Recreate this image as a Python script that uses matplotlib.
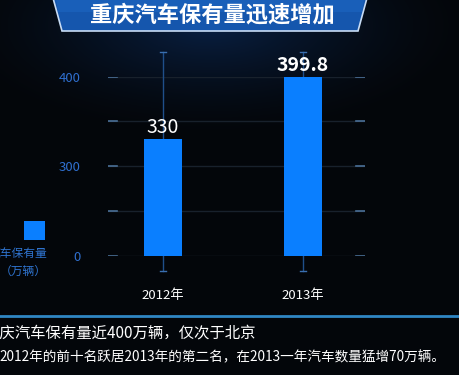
import numpy as np
import matplotlib
matplotlib.use('Agg')
import matplotlib.pyplot as plt
from matplotlib.patches import Polygon, Rectangle

plt.rcParams['font.family'] = ['Noto Sans CJK SC', 'DejaVu Sans']

# data
years = ['2012年', '2013年']
counts = [330, 399.8]
value_labels = ['330', '399.8']
grid_levels = [200, 250, 300, 350, 400]
tick_pos = [200, 300, 400]
tick_labels = ['0', '300', '400']

title = '重庆汽车保有量迅速增加'
legend_label = '汽车保有量\n（万辆）'
note1 = '重庆汽车保有量近400万辆，仅次于北京'
note2 = '2012年的前十名跃居2013年的第二名，在2013一年汽车数量猛增70万辆。'

W, H = 460, 375
fig = plt.figure(figsize=(W / 100, H / 100), dpi=100)

# background with soft glow under the banner
bg = fig.add_axes([0, 0, 1, 1])
yy, xx = np.mgrid[0:H, 0:W]
d = np.sqrt(((xx - 210) / 260.0) ** 2 + ((yy - 25) / 110.0) ** 2)
glow = np.clip(1 - d, 0, 1) ** 1.5
img = np.zeros((H, W, 3))
img[..., 0] = 0.015 + 0.02 * glow
img[..., 1] = 0.025 + 0.10 * glow
img[..., 2] = 0.04 + 0.22 * glow
bg.imshow(img, extent=[0, W, H, 0], aspect='auto')
bg.set_xlim(0, W)
bg.set_ylim(H, 0)
bg.axis('off')

# banner
bg.add_patch(Polygon([[53, -2], [367, -2], [358, 31], [62, 31]], closed=True,
                     facecolor='#1556ad', edgecolor='#c8dcf5', linewidth=1.2))
bg.add_patch(Polygon([[56, -2], [364, -2], [362, 12], [58, 12]], closed=True,
                     facecolor='#1d66c2', edgecolor='none', alpha=0.6))
bg.text(212, 15, title, color='white', fontsize=16, fontweight='bold',
        ha='center', va='center')

# separator and notes (left edge is cropped as in the source image)
bg.plot([0, W], [316, 316], color='#2f86c4', linewidth=2)
bg.text(-15.5, 333, note1, color='white', fontsize=11.1, ha='left', va='center')
bg.text(-1, 357, note2, color='white', fontsize=9.8, ha='left', va='center')

# legend
bg.add_patch(Rectangle((24, 221), 21, 19, facecolor='#0a7fff', edgecolor='none'))
bg.text(47, 262, legend_label, color='#2f74d0', fontsize=8.5, ha='right', va='center',
        multialignment='right', linespacing=1.5)

# chart
ax = fig.add_axes([108 / W, 1 - 255.7 / H, 257 / W, 179 / H])
ax.set_facecolor('none')
x = np.arange(len(years))
ax.set_xlim(-0.393, 1.443)
ax.set_ylim(200, 400)

for g in grid_levels:
    ax.axhline(g, color='#18212c', linewidth=1, zorder=1)
    ax.plot([-0.393, -0.33], [g, g], color='#4a6f96', linewidth=1.2, zorder=2)
    ax.plot([1.38, 1.443], [g, g], color='#4a6f96', linewidth=1.2, zorder=2)

for xi in x:
    ax.plot([xi, xi], [183, 428], color='#1f4f8a', linewidth=1, clip_on=False, zorder=1)
    ax.plot([xi - 0.02, xi + 0.02], [183, 183], color='#3a6fb0', linewidth=1, clip_on=False)
    ax.plot([xi - 0.02, xi + 0.02], [428, 428], color='#3a6fb0', linewidth=1, clip_on=False)

ax.bar(x, np.array(counts) - 200, bottom=200, width=0.268, color='#0a7fff', zorder=3)
for xi, v, lab in zip(x, counts, value_labels):
    ax.text(xi, v + 2, lab, color='white', fontsize=14, ha='center', va='bottom',
            fontweight='bold' if '.' in lab else 'normal')

ax.set_yticks(tick_pos)
ax.set_yticklabels(tick_labels, color='#2f6fcf', fontsize=9.5)
ax.tick_params(axis='y', length=0, pad=20)
ax.set_xticks(x)
ax.set_xticklabels(years, color='white', fontsize=9.5)
ax.tick_params(axis='x', length=0, pad=24)
for s in ax.spines.values():
    s.set_visible(False)

fig.savefig('out.png', dpi=100, facecolor='#04070b')
